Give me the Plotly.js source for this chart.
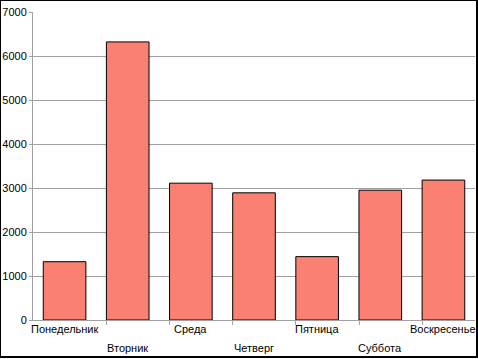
<!DOCTYPE html>
<html><head><meta charset="utf-8">
<script src="https://cdn.plot.ly/plotly-3.0.1.min.js"></script>
<style>
html,body{margin:0;padding:0;background:#fff;overflow:hidden;}
#wrap{position:relative;width:478px;height:359px;}
#chart{position:absolute;left:0;top:0;width:478px;height:359px;}
#frame{position:absolute;left:0px;top:0px;width:475px;height:355px;border-right:2px solid #000;border-bottom:2px solid #000;border-left:1px solid #000;border-top:1px solid #000;pointer-events:none;box-sizing:content-box;margin:0;}
</style></head>
<body><div id="wrap"><div id="chart"></div><div id="frame"></div></div>
<script>
var categories = ['Понедельник','Вторник','Среда','Четверг','Пятница','Суббота','Воскресенье'];
var values = [1325, 6320, 3110, 2890, 1440, 2950, 3180];
var yTicks = [0,1000,2000,3000,4000,5000,6000,7000];

var fontFam = '"Liberation Sans", Arial, sans-serif';
var annotations = categories.map(function(c,i){
  return {x:c, xref:'x', y:0, yref:'paper', yanchor:'top', xanchor:'center',
    yshift: (i%2===0) ? -1 : -20, text:c, showarrow:false,
    font:{family:fontFam, size:11, color:'#000'}};
});
var tickPos = categories.map(function(c,i){return i-0.337;}).slice(1);

var data = [{
  type:'bar', x:categories, y:values,
  marker:{color:'#FA8072', line:{color:'#000', width:1}},
  hoverinfo:'none'
},{
  type:'scatter', x:[0], y:[0], xaxis:'x2', mode:'markers', marker:{opacity:0}, hoverinfo:'none', showlegend:false
}];
var layout = {
  width:478, height:359,
  margin:{l:33, r:3, t:12, b:39, autoexpand:false},
  paper_bgcolor:'#fff', plot_bgcolor:'#fff',
  showlegend:false, bargap:0.325,
  font:{family:fontFam, size:11, color:'#000'},
  xaxis:{type:'category', categoryarray:categories, range:[-0.5,6.5], autorange:false, showticklabels:false, ticks:'',
    showgrid:false, showline:true, linecolor:'#a0a0a0', linewidth:1, zeroline:false, fixedrange:true, automargin:false},
  xaxis2:{overlaying:'x', range:[-0.5,6.5], autorange:false, tickvals:tickPos, showticklabels:false, automargin:false,
    ticks:'outside', ticklen:4, tickcolor:'#a0a0a0', showgrid:false, showline:false, zeroline:false, side:'bottom'},
  yaxis:{range:[0,7000], autorange:false, tickvals:yTicks, ticktext:yTicks.map(String), ticks:'outside', ticklen:3,
    tickcolor:'#a0a0a0', showgrid:true, gridcolor:'#a0a0a0', gridwidth:1, showline:true, linecolor:'#a0a0a0',
    zeroline:false, automargin:false, tickfont:{family:fontFam, size:11, color:'#000'}},
  annotations:annotations
};
Plotly.newPlot('chart', data, layout, {staticPlot:true, displayModeBar:false});
</script></body></html>
